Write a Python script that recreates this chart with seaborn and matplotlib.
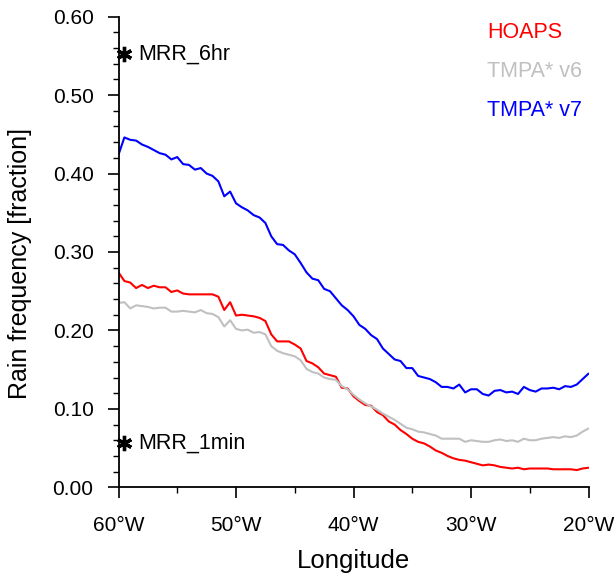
import numpy as np
import pandas as pd
import matplotlib
matplotlib.use("Agg")
import matplotlib.pyplot as plt
import seaborn as sns
from matplotlib.ticker import MultipleLocator, FixedLocator

# ---------------- data ----------------
lon = np.arange(-60.0, -19.99, 0.5)

hoaps = [0.274, 0.263, 0.261, 0.254, 0.258, 0.254, 0.257, 0.255, 0.255, 0.249,
         0.251, 0.247, 0.246, 0.246, 0.246, 0.246, 0.246, 0.243, 0.226, 0.236,
         0.219, 0.220, 0.219, 0.218, 0.216, 0.212, 0.195, 0.186, 0.186, 0.186,
         0.182, 0.177, 0.161, 0.158, 0.153, 0.145, 0.143, 0.141, 0.127, 0.126,
         0.116, 0.110, 0.105, 0.104, 0.096, 0.092, 0.084, 0.080, 0.073, 0.068,
         0.062, 0.058, 0.056, 0.052, 0.047, 0.044, 0.040, 0.037, 0.035, 0.034,
         0.032, 0.030, 0.028, 0.029, 0.028, 0.026, 0.025, 0.024, 0.025, 0.023,
         0.024, 0.024, 0.024, 0.024, 0.023, 0.023, 0.023, 0.023, 0.022, 0.024,
         0.025]

tmpa_v6 = [0.235, 0.236, 0.228, 0.232, 0.231, 0.230, 0.228, 0.229, 0.229, 0.224,
           0.224, 0.225, 0.224, 0.223, 0.226, 0.222, 0.221, 0.217, 0.205, 0.213,
           0.202, 0.200, 0.201, 0.197, 0.198, 0.195, 0.180, 0.174, 0.171, 0.169,
           0.167, 0.162, 0.151, 0.147, 0.145, 0.140, 0.138, 0.137, 0.129, 0.125,
           0.118, 0.112, 0.107, 0.103, 0.099, 0.094, 0.090, 0.086, 0.081, 0.076,
           0.074, 0.071, 0.070, 0.068, 0.066, 0.062, 0.062, 0.062, 0.062, 0.058,
           0.060, 0.059, 0.058, 0.058, 0.060, 0.061, 0.059, 0.060, 0.058, 0.062,
           0.060, 0.060, 0.062, 0.063, 0.064, 0.063, 0.065, 0.064, 0.066, 0.071,
           0.075]

tmpa_v7 = [0.424, 0.446, 0.443, 0.442, 0.437, 0.434, 0.430, 0.426, 0.424, 0.418,
           0.421, 0.412, 0.411, 0.405, 0.407, 0.400, 0.397, 0.390, 0.371, 0.377,
           0.362, 0.357, 0.353, 0.347, 0.344, 0.337, 0.320, 0.310, 0.309, 0.302,
           0.297, 0.286, 0.274, 0.266, 0.264, 0.253, 0.250, 0.241, 0.232, 0.226,
           0.218, 0.207, 0.202, 0.194, 0.189, 0.177, 0.170, 0.163, 0.161, 0.152,
           0.152, 0.142, 0.140, 0.138, 0.134, 0.128, 0.128, 0.126, 0.131, 0.121,
           0.125, 0.125, 0.119, 0.117, 0.123, 0.124, 0.121, 0.122, 0.119, 0.128,
           0.124, 0.122, 0.126, 0.126, 0.127, 0.125, 0.129, 0.128, 0.131, 0.138,
           0.145]

series_names = ["HOAPS", "TMPA* v6", "TMPA* v7"]
series_colors = ["#ff0000", "#c0c0c0", "#0000ff"]

mrr_labels = ["MRR_6hr", "MRR_1min"]
mrr_lon = [-59.5, -59.5]
mrr_val = [0.552, 0.056]

xticks = [-60, -50, -40, -30, -20]
xticklabels = ["60°W", "50°W", "40°W", "30°W", "20°W"]
yticks = [0.0, 0.1, 0.2, 0.3, 0.4, 0.5, 0.6]

# ---------------- figure ----------------
sns.set_style("ticks")
plt.rcParams["font.family"] = ["Liberation Sans", "DejaVu Sans"]
plt.rcParams["text.color"] = "black"
plt.rcParams["axes.labelcolor"] = "black"
plt.rcParams["xtick.color"] = "black"
plt.rcParams["ytick.color"] = "black"

df = pd.concat([
    pd.DataFrame({"lon": lon, "value": vals, "series": name})
    for name, vals in zip(series_names, [hoaps, tmpa_v6, tmpa_v7])
], ignore_index=True)

fig = plt.figure(figsize=(6.14, 5.74), dpi=100)
ax = fig.add_axes([0.193, 0.151, 0.7655, 0.820])

sns.lineplot(data=df, x="lon", y="value", hue="series",
             palette=dict(zip(series_names, series_colors)),
             hue_order=series_names, linewidth=1.5, legend=False, ax=ax)

ax.plot(mrr_lon, mrr_val, linestyle="none", marker=(6, 2, 0),
        markersize=11, markeredgewidth=2.4, color="black", clip_on=False)
for lx, vy, lab in zip(mrr_lon, mrr_val, mrr_labels):
    ax.annotate(lab, (lx, vy), xytext=(10, 0), textcoords="offset points",
                va="center", ha="left", fontsize=15.5, color="black")

ax.set_xlim(-60, -20)
ax.set_ylim(0, 0.6)
ax.xaxis.set_major_locator(FixedLocator(xticks))
ax.set_xticklabels(xticklabels)
ax.xaxis.set_minor_locator(MultipleLocator(5))
ax.yaxis.set_major_locator(FixedLocator(yticks))
ax.set_yticklabels([f"{v:.2f}" for v in yticks])
ax.yaxis.set_minor_locator(MultipleLocator(0.02))

ax.tick_params(axis="both", which="major", direction="out", length=8,
               width=1.2, labelsize=15, color="black", labelcolor="black")
ax.tick_params(axis="y", which="major", pad=10)
ax.tick_params(axis="x", which="major", pad=13)
ax.tick_params(axis="both", which="minor", direction="out", length=4,
               width=1.0, color="black")
for s in ["left", "bottom"]:
    ax.spines[s].set_linewidth(1.3)
    ax.spines[s].set_color("black")
sns.despine(ax=ax)

ax.set_xlabel("Longitude", fontsize=18.5, labelpad=10, color="black")
ax.set_ylabel("Rain frequency [fraction]", fontsize=18, color="black")
ax.yaxis.set_label_coords(-0.185, 0.475)

legend_y = [0.966, 0.883, 0.800]
for name, col, yy in zip(series_names, series_colors, legend_y):
    ax.text(0.784, yy, name, transform=ax.transAxes, color=col,
            fontsize=15.5, ha="left", va="center")

fig.savefig("out.png", dpi=100)
